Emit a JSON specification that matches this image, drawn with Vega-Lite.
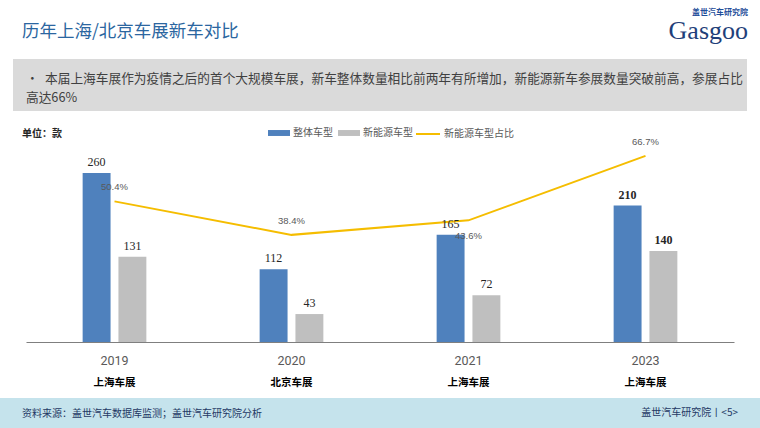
{
  "$schema": "https://vega.github.io/schema/vega-lite/v6.json",
  "padding": 0,
  "spacing": 0,
  "bounds": "flush",
  "center": true,
  "background": "white",
  "config": {"view": {"stroke": null}, "font": "Noto Sans CJK SC", "title": {"font": "Noto Sans CJK SC"}},
  "title": {"text": "历年上海/北京车展新车对比", "anchor": "start", "frame": "group", "offset": -40, "dx": 22, "fontSize": 17.5, "fontWeight": "normal", "color": "#2b66a0"},
  "datasets": {
    "bars": [
      {"year": "2019", "series": "整体车型", "value": 260},
      {"year": "2019", "series": "新能源车型", "value": 131},
      {"year": "2020", "series": "整体车型", "value": 112},
      {"year": "2020", "series": "新能源车型", "value": 43},
      {"year": "2021", "series": "整体车型", "value": 165},
      {"year": "2021", "series": "新能源车型", "value": 72},
      {"year": "2023", "series": "整体车型", "value": 210},
      {"year": "2023", "series": "新能源车型", "value": 140}
    ],
    "share": [
      {"year": "2019", "share": 0.504},
      {"year": "2020", "share": 0.384},
      {"year": "2021", "share": 0.436},
      {"year": "2023", "share": 0.667}
    ]
  },
  "resolve": {"legend": {"color": "independent", "stroke": "independent"}},
  "vconcat": [
    {
      "width": 760, "height": 59,
      "data": {"values": []},
      "mark": "point",
      "title": {"text": "盖世汽车研究院", "subtitle": "Gasgoo", "anchor": "end", "frame": "group", "offset": -44, "dx": -12, "fontSize": 8, "fontWeight": "bold", "color": "#1f4e9a", "subtitleFont": "Liberation Serif", "subtitleFontSize": 26, "subtitleColor": "#1f3f7a", "subtitlePadding": 1}
    },
    {
      "width": 734, "height": 52,
      "view": {"fill": "#dadada", "stroke": null},
      "data": {"values": []},
      "mark": "point",
      "title": {"text": ["•\u2002本届上海车展作为疫情之后的首个大规模车展，新车整体数量相比前两年有所增加，新能源新车参展数量突破前高，参展占比", "\u2002\u2004高达66%"], "anchor": "start", "frame": "group", "offset": -46, "dx": 13, "fontSize": 12.7, "fontWeight": "normal", "color": "#404040", "lineHeight": 19}
    },
    {
      "width": 708, "height": 231,
      "title": {"text": "单位：款", "anchor": "start", "frame": "group", "offset": -28, "dx": -4, "fontSize": 10, "fontWeight": "bold", "color": "#262626"},
      "layer": [
        {
          "data": {"name": "bars"},
          "mark": {"type": "bar"},
          "encoding": {
            "x": {"field": "year", "type": "nominal", "scale": {"paddingInner": 0.64, "paddingOuter": 0.32},
                  "axis": {"orient": "bottom", "title": null, "labelAngle": 0, "ticks": false, "grid": false, "domainColor": "#7f7f7f", "domainWidth": 1, "labelFont": "Roboto", "labelFontSize": 12.5, "labelColor": "#595959", "labelPadding": 12}},
            "xOffset": {"field": "series", "type": "nominal", "scale": {"domain": ["整体车型", "新能源车型"], "paddingInner": 0.22}},
            "y": {"field": "value", "type": "quantitative", "scale": {"domain": [0, 355.4], "nice": false}, "axis": null},
            "color": {"field": "series", "type": "nominal", "scale": {"domain": ["整体车型", "新能源车型"], "range": ["#4f81bd", "#bfbfbf"]},
                      "legend": {"orient": "none", "legendX": 242, "legendY": 11, "direction": "horizontal", "title": null, "symbolType": "M-1,-0.27H1V0.27H-1Z", "symbolSize": 484, "symbolStrokeWidth": 0, "labelFont": "Noto Sans CJK SC", "labelFontSize": 10, "labelColor": "#595959", "labelOffset": 3, "columnPadding": 5}}
          }
        },
        {
          "data": {"name": "share"},
          "mark": {"type": "line", "strokeWidth": 2},
          "encoding": {
            "x": {"field": "year", "type": "nominal",
                  "axis": {"orient": "bottom", "title": null, "domain": false, "ticks": false, "grid": false, "labelAngle": 0, "labelExpr": "datum.value == '2020' ? '北京车展' : '上海车展'", "labelPadding": 35, "labelFont": "Noto Sans CJK SC", "labelFontWeight": "bold", "labelFontSize": 10.5, "labelColor": "#000000"}},
            "y": {"field": "share", "type": "quantitative", "scale": {"domain": [0, 0.828], "nice": false}, "axis": null},
            "stroke": {"datum": "新能源车型占比", "type": "nominal", "scale": {"range": ["#f5bd00"]},
                       "legend": {"orient": "none", "legendX": 389, "legendY": 10, "title": null, "symbolType": "stroke", "symbolSize": 576, "symbolStrokeWidth": 2, "labelFont": "Noto Sans CJK SC", "labelFontSize": 10, "labelColor": "#595959", "labelOffset": 3}}
          }
        },
        {
          "data": {"name": "bars"},
          "transform": [{"filter": "datum.year != '2023'"}],
          "mark": {"type": "text", "font": "Liberation Serif", "fontSize": 12, "color": "#262626", "baseline": "alphabetic", "dy": -7},
          "encoding": {
            "x": {"field": "year", "type": "nominal", "axis": null},
            "xOffset": {"field": "series", "type": "nominal"},
            "y": {"field": "value", "type": "quantitative", "scale": {"domain": [0, 355.4], "nice": false}, "axis": null},
            "text": {"field": "value", "type": "quantitative"}
          }
        },
        {
          "data": {"name": "bars"},
          "transform": [{"filter": "datum.year == '2023'"}],
          "mark": {"type": "text", "font": "Liberation Serif", "fontSize": 12, "fontWeight": "bold", "color": "#262626", "baseline": "alphabetic", "dy": -7},
          "encoding": {
            "x": {"field": "year", "type": "nominal", "axis": null},
            "xOffset": {"field": "series", "type": "nominal"},
            "y": {"field": "value", "type": "quantitative", "scale": {"domain": [0, 355.4], "nice": false}, "axis": null},
            "text": {"field": "value", "type": "quantitative"}
          }
        },
        {
          "data": {"name": "share"},
          "transform": [{"filter": "datum.year != '2021'"}],
          "mark": {"type": "text", "font": "Liberation Sans", "fontSize": 9.5, "color": "#595959", "baseline": "middle", "dy": -14},
          "encoding": {
            "x": {"field": "year", "type": "nominal", "axis": null},
            "y": {"field": "share", "type": "quantitative", "scale": {"domain": [0, 0.828], "nice": false}, "axis": null},
            "text": {"field": "share", "type": "quantitative", "format": ".1%"}
          }
        },
        {
          "data": {"name": "share"},
          "transform": [{"filter": "datum.year == '2021'"}],
          "mark": {"type": "text", "font": "Liberation Sans", "fontSize": 9.5, "color": "#595959", "baseline": "middle", "dy": 16},
          "encoding": {
            "x": {"field": "year", "type": "nominal", "axis": null},
            "y": {"field": "share", "type": "quantitative", "scale": {"domain": [0, 0.828], "nice": false}, "axis": null},
            "text": {"field": "share", "type": "quantitative", "format": ".1%"}
          }
        }
      ],
      "resolve": {"scale": {"y": "independent"}, "axis": {"x": "independent"}}
    },
    {
      "width": 760, "height": 56,
      "data": {"values": []},
      "mark": "point"
    },
    {
      "width": 760, "height": 30,
      "view": {"fill": "#c5e3ec", "stroke": null},
      "data": {"values": [{"t": "盖世汽车研究院丨<5>"}]},
      "mark": {"type": "text", "align": "right", "baseline": "middle", "dx": -22, "fontSize": 10, "color": "#1f3864", "font": "Noto Sans CJK SC"},
      "encoding": {
        "text": {"field": "t", "type": "nominal"},
        "x": {"datum": 1, "type": "quantitative", "scale": {"domain": [0, 1]}, "axis": null}
      },
      "title": {"text": "资料来源：盖世汽车数据库监测；盖世汽车研究院分析", "anchor": "start", "frame": "group", "offset": -21, "dx": 22, "fontSize": 10, "fontWeight": "normal", "color": "#1f3864"}
    }
  ]
}
